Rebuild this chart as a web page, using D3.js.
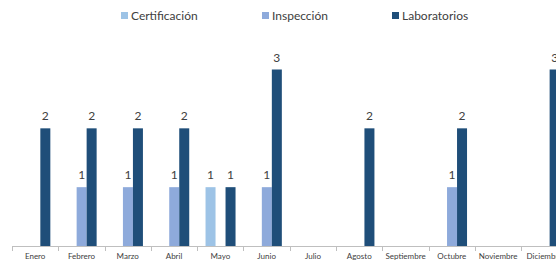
<!DOCTYPE html>
<html>
<head>
<meta charset="utf-8">
<script src="https://cdn.jsdelivr.net/npm/d3@7"></script>
<style>
  body { margin: 0; background: #fff; }
  svg { display: block; font-family: Lato, "Open Sans", sans-serif; }
</style>
</head>
<body>
<svg id="chart"></svg>
<script>
const months = ['Enero', 'Febrero', 'Marzo', 'Abril', 'Mayo', 'Junio', 'Julio',
                'Agosto', 'Septiembre', 'Octubre', 'Noviembre', 'Diciembre'];
const seriesNames = ['Certificación', 'Inspección', 'Laboratorios'];
const certificacion = [0, 0, 0, 0, 1, 0, 0, 0, 0, 0, 0, 0];
const inspeccion    = [0, 1, 1, 1, 0, 1, 0, 0, 0, 1, 0, 0];
const laboratorios  = [2, 2, 2, 2, 1, 3, 0, 2, 0, 2, 0, 3];
const colors = ['#9dc3e6', '#8eaadb', '#1f4e79'];

const width = 556, height = 260;
const svg = d3.select('#chart').attr('width', width).attr('height', height);

const x0 = 12, x1 = 12 + 46.3 * 12;
const baseY = 246;

// category scale, runs past the right edge like the original
const xScale = d3.scaleBand().domain(months).range([x0, x1]).paddingInner(0).paddingOuter(0);
const xSub = d3.scaleBand().domain(seriesNames)
  .range([xScale.bandwidth() * 0.18, xScale.bandwidth() * 0.18 + 30]);
const yScale = d3.scaleLinear().domain([0, 3]).range([baseY, 69.5]);

const series = [certificacion, inspeccion, laboratorios];

/* bars */
const groups = svg.append('g').selectAll('g')
  .data(months)
  .join('g')
  .attr('transform', d => `translate(${xScale(d)},0)`);

groups.each(function (m, i) {
  const g = d3.select(this);
  seriesNames.forEach((s, k) => {
    const v = series[k][i];
    if (!v) return;
    g.append('rect')
      .attr('x', xSub(s))
      .attr('y', yScale(v))
      .attr('width', xSub.bandwidth())
      .attr('height', baseY - yScale(v))
      .attr('fill', colors[k]);
    g.append('text')
      .attr('x', xSub(s) + xSub.bandwidth() / 2)
      .attr('y', yScale(v) - 8)
      .attr('text-anchor', 'middle')
      .attr('font-size', 12)
      .attr('fill', '#404040')
      .text(v);
  });
});

/* x axis */
const axis = svg.append('g');
axis.append('line')
  .attr('x1', x0).attr('x2', x1)
  .attr('y1', baseY + 0.5).attr('y2', baseY + 0.5)
  .attr('stroke', '#bfbfbf');
axis.selectAll('.tick')
  .data(months.concat(['']))
  .join('line')
  .attr('x1', (d, i) => Math.round(x0 + i * xScale.step()) + 0.5)
  .attr('x2', (d, i) => Math.round(x0 + i * xScale.step()) + 0.5)
  .attr('y1', baseY).attr('y2', baseY + 5)
  .attr('stroke', '#bfbfbf');
axis.selectAll('.lbl')
  .data(months)
  .join('text')
  .attr('x', d => xScale(d) + xScale.bandwidth() / 2)
  .attr('y', 259)
  .attr('text-anchor', 'middle')
  .attr('font-size', 8)
  .attr('fill', '#404040')
  .text(d => d);

/* legend */
const legendX = [121, 262, 392];
const legend = svg.append('g').selectAll('g')
  .data(seriesNames)
  .join('g')
  .attr('transform', (d, i) => `translate(${legendX[i]},12)`);
legend.append('rect')
  .attr('width', 7).attr('height', 7)
  .attr('fill', (d, i) => colors[i]);
legend.append('text')
  .attr('x', 10).attr('y', 7.5)
  .attr('font-size', 12)
  .attr('fill', '#404040')
  .text(d => d);
</script>
</body>
</html>
